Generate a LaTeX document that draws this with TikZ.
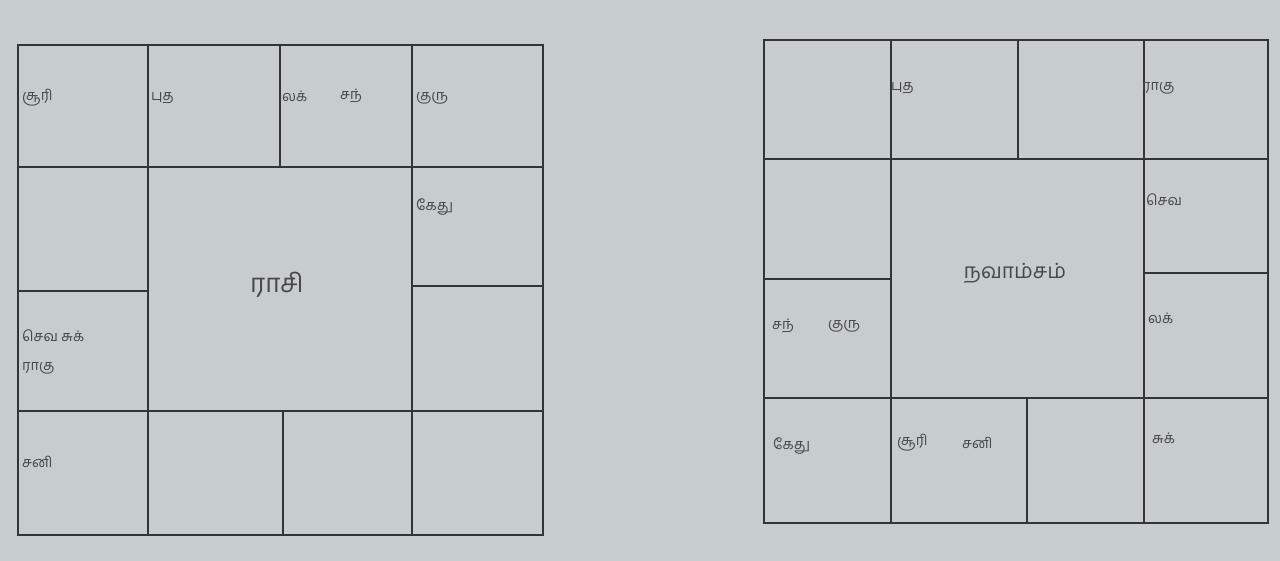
\documentclass[tikz,border=0pt]{standalone}
\usepackage{fontspec}
\newfontfamily\tamil[Script=Tamil]{Hind Madurai}
\definecolor{paper}{RGB}{199,204,206}
\definecolor{ink}{RGB}{50,52,53}
\definecolor{txt}{RGB}{70,72,74}
\tikzset{
  grid line/.style={draw=ink, line width=1.6pt},
  lbl/.style={anchor=west, inner sep=0pt, text=txt, font=\tamil\fontsize{14.5}{16}\selectfont},
  title/.style={inner sep=0pt, text=txt, font=\tamil\fontsize{21}{24}\selectfont}
}
\begin{document}
\begin{tikzpicture}[x=1pt,y=-1pt]
\fill[paper] (0,0) rectangle (1280,561);
\useasboundingbox (0,0) rectangle (1280,561);
% ---- left chart (rasi) ----
\draw[grid line] (18,45) rectangle (543,535);
\draw[grid line] (18,167) -- (543,167);
\draw[grid line] (18,411) -- (543,411);
\draw[grid line] (148,45) -- (148,535);
\draw[grid line] (412,45) -- (412,535);
\draw[grid line] (280,45) -- (280,167);
\draw[grid line] (283,411) -- (283,535);
\draw[grid line] (18,291) -- (148,291);
\draw[grid line] (412,286) -- (543,286);
\node[lbl] (l1) at (22,98) {சூரி};
\node[lbl] (l2) at (151,98) {புத};
\node[lbl] (l3) at (282,96) {லக்};
\node[lbl] (l4) at (340,96) {சந்};
\node[lbl] (l5) at (416,98) {குரு};
\node[lbl] (l6) at (416,207) {கேது};
\node[title, font=\tamil\fontsize{26}{28}\selectfont] (l7) at (277,285) {ராசி};
\node[lbl] (l8) at (22,336) {செவ சுக்};
\node[lbl] (l9) at (22,368) {ராகு};
\node[lbl] (l10) at (22,462) {சனி};
% ---- right chart (navamsam) ----
\draw[grid line] (764,40) rectangle (1268,523);
\draw[grid line] (764,159) -- (1268,159);
\draw[grid line] (764,398) -- (1268,398);
\draw[grid line] (891,40) -- (891,523);
\draw[grid line] (1144,40) -- (1144,523);
\draw[grid line] (1018,40) -- (1018,159);
\draw[grid line] (1027,398) -- (1027,523);
\draw[grid line] (764,279) -- (891,279);
\draw[grid line] (1144,273) -- (1268,273);
\node[lbl] (r1) at (891,88) {புத};
\node[lbl] (r2) at (1142,88) {ராகு};
\node[lbl] (r3) at (1146,200) {செவ};
\node[title] (r4) at (1015,273) {நவாம்சம்};
\node[lbl] (r5) at (772,326) {சந்};
\node[lbl] (r6) at (828,326) {குரு};
\node[lbl] (r7) at (1148,318) {லக்};
\node[lbl] (r8) at (773,446) {கேது};
\node[lbl] (r9) at (897,443) {சூரி};
\node[lbl] (r10) at (962,443) {சனி};
\node[lbl] (r11) at (1152,438) {சுக்};
\end{tikzpicture}
\end{document}
